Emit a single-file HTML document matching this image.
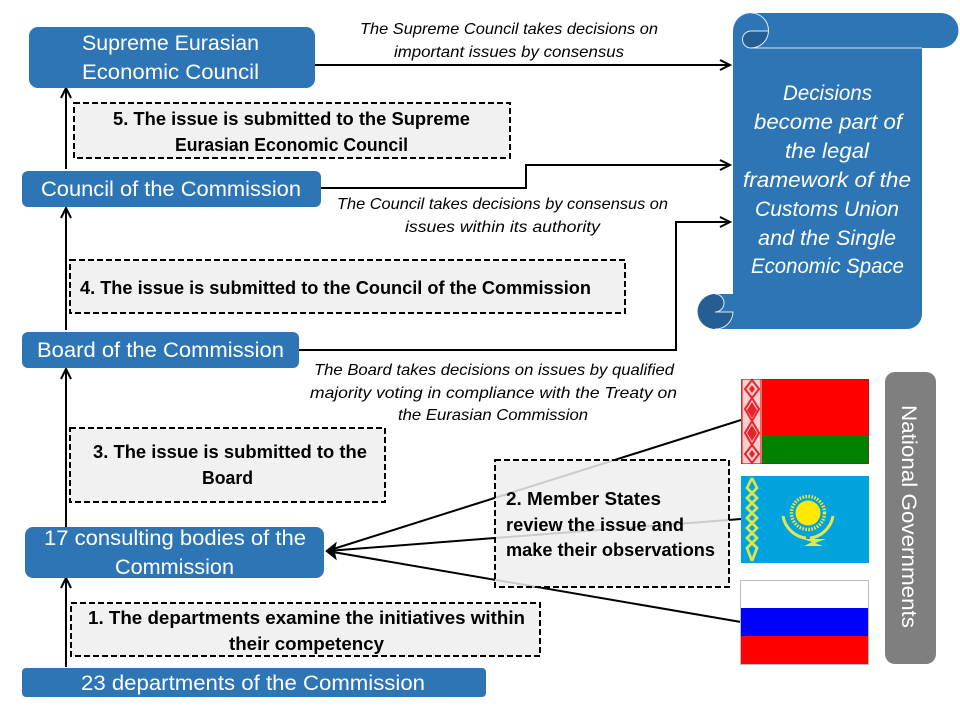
<!DOCTYPE html>
<html>
<head>
<meta charset="utf-8">
<style>
html,body{margin:0;padding:0;background:#fff;width:960px;height:720px;overflow:hidden}
svg{display:block}
text{font-family:"Liberation Sans",sans-serif}
.n{fill:#fff;font-size:21px}
.i{fill:#000;font-size:16px;font-style:italic}
.b{fill:#000;font-size:18px;font-weight:bold}
.s{fill:#fff;font-size:21px;font-style:italic}
.box{fill:#eee;fill-opacity:.85;stroke:#000;stroke-width:2;stroke-dasharray:6 3}
.l{fill:none;stroke:#000;stroke-width:2}
.a{fill:none;stroke:#000;stroke-width:2}
</style>
</head>
<body>
<svg width="960" height="720" viewBox="0 0 960 720" xmlns="http://www.w3.org/2000/svg">
<!-- connectors -->
<path class="l" d="M315 65H729"/><path class="a" d="M720 60L730 65L720 70"/>
<path class="l" d="M321 188H526V165H729"/><path class="a" d="M720 160L730 165L720 170"/>
<path class="l" d="M299 350H676V222H729"/><path class="a" d="M720 217L730 222L720 227"/>
<path class="l" d="M66 169V89"/><path class="a" d="M61 98L66 88L71 98"/>
<path class="l" d="M66 330V209"/><path class="a" d="M61 218L66 208L71 218"/>
<path class="l" d="M66 527V370"/><path class="a" d="M61 379L66 369L71 379"/>
<path class="l" d="M66 667V579"/><path class="a" d="M61 588L66 578L71 588"/>
<path class="l" d="M741 420L327 551"/><path class="l" d="M741 519L327 551"/><path class="l" d="M741 622L327 551"/>
<path fill="#000" stroke="#000" stroke-width="1" d="M326 551L336 543L334 551L336 559Z"/>
<!-- nodes -->
<g fill="#2e75b6">
<rect x="29" y="27" width="286" height="61" rx="9"/>
<rect x="22" y="171" width="299" height="36" rx="6"/>
<rect x="22" y="332" width="277" height="36" rx="6"/>
<rect x="25" y="527" width="299" height="51" rx="8"/>
<rect x="22" y="668" width="464" height="29" rx="4"/>
</g>
<text class="n" x="82" y="50" textLength="177" lengthAdjust="spacingAndGlyphs">Supreme Eurasian</text>
<text class="n" x="82" y="79" textLength="177" lengthAdjust="spacingAndGlyphs">Economic Council</text>
<text class="n" x="41" y="196" textLength="260" lengthAdjust="spacingAndGlyphs">Council of the Commission</text>
<text class="n" x="37" y="357" textLength="247" lengthAdjust="spacingAndGlyphs">Board of the Commission</text>
<text class="n" x="44" y="545" textLength="262" lengthAdjust="spacingAndGlyphs">17 consulting bodies of the</text>
<text class="n" x="115" y="574" textLength="119" lengthAdjust="spacingAndGlyphs">Commission</text>
<text class="n" x="81" y="690" textLength="344" lengthAdjust="spacingAndGlyphs">23 departments of the Commission</text>
<!-- italic labels -->
<text class="i" x="360" y="34" textLength="298" lengthAdjust="spacingAndGlyphs">The Supreme Council takes decisions on</text>
<text class="i" x="394" y="57" textLength="230" lengthAdjust="spacingAndGlyphs">important issues by consensus</text>
<text class="i" x="337" y="209" textLength="331" lengthAdjust="spacingAndGlyphs">The Council takes decisions by consensus on</text>
<text class="i" x="405" y="232" textLength="195" lengthAdjust="spacingAndGlyphs">issues within its authority</text>
<text class="i" x="314" y="375" textLength="360" lengthAdjust="spacingAndGlyphs">The Board takes decisions on issues by qualified</text>
<text class="i" x="310" y="398" textLength="367" lengthAdjust="spacingAndGlyphs">majority voting in compliance with the Treaty on</text>
<text class="i" x="398" y="420" textLength="190" lengthAdjust="spacingAndGlyphs">the Eurasian Commission</text>
<!-- dashed boxes -->
<rect class="box" x="74" y="103" width="436" height="55"/>
<rect class="box" x="70" y="260" width="555" height="53"/>
<rect class="box" x="70" y="428" width="315" height="74"/>
<rect class="box" x="495" y="460" width="234" height="127"/>
<rect class="box" x="71" y="603" width="469" height="53"/>
<text class="b" x="113" y="125" textLength="357" lengthAdjust="spacingAndGlyphs">5. The issue is submitted to the Supreme</text>
<text class="b" x="175" y="151" textLength="233" lengthAdjust="spacingAndGlyphs">Eurasian Economic Council</text>
<text class="b" x="80" y="294" textLength="511" lengthAdjust="spacingAndGlyphs">4. The issue is submitted to the Council of the Commission</text>
<text class="b" x="93" y="458" textLength="274" lengthAdjust="spacingAndGlyphs">3. The issue is submitted to the</text>
<text class="b" x="202" y="484" textLength="51" lengthAdjust="spacingAndGlyphs">Board</text>
<text class="b" x="506" y="505" textLength="155" lengthAdjust="spacingAndGlyphs">2. Member States</text>
<text class="b" x="506" y="531" textLength="178" lengthAdjust="spacingAndGlyphs">review the issue and</text>
<text class="b" x="506" y="556" textLength="209" lengthAdjust="spacingAndGlyphs">make their observations</text>
<text class="b" x="88" y="624" textLength="437" lengthAdjust="spacingAndGlyphs">1. The departments examine the initiatives within</text>
<text class="b" x="229" y="650" textLength="155" lengthAdjust="spacingAndGlyphs">their competency</text>
<!-- scroll -->
<path fill="#2e75b6" d="M733 31A18 18 0 0 1 751 13H941A17.500 17.500 0 0 1 941 48H922V314A15 15 0 0 1 907 329H715A17.500 17.500 0 0 1 715 294H733Z"/>
<path fill="#255e92" d="M751 48A8.500 8.500 0 0 1 751 31H768A18 18 0 0 1 751 48Z"/>
<path fill="#255e92" d="M715 294A17.500 17.500 0 1 0 733 312H715A9 9 0 0 0 724 303A9 9 0 0 0 715 294Z"/>
<path fill="none" stroke="#dfeaf5" stroke-width="1" d="M751 13A17.500 17.500 0 0 1 751 48H922M751 48A8.500 8.500 0 0 1 751 31H768"/>
<path fill="none" stroke="#dfeaf5" stroke-width="1" d="M715 329A17.500 17.500 0 0 0 733 312H715M715 312A9 9 0 0 0 724 303A9 9 0 0 0 715 294"/>
<text class="s" x="783" y="100" textLength="89" lengthAdjust="spacingAndGlyphs">Decisions</text>
<text class="s" x="754" y="129" textLength="148" lengthAdjust="spacingAndGlyphs">become part of</text>
<text class="s" x="785" y="158" textLength="84" lengthAdjust="spacingAndGlyphs">the legal</text>
<text class="s" x="743" y="187" textLength="168" lengthAdjust="spacingAndGlyphs">framework of the</text>
<text class="s" x="755" y="216" textLength="144" lengthAdjust="spacingAndGlyphs">Customs Union</text>
<text class="s" x="758" y="245" textLength="138" lengthAdjust="spacingAndGlyphs">and the Single</text>
<text class="s" x="751" y="273" textLength="153" lengthAdjust="spacingAndGlyphs">Economic Space</text>
<!-- flags -->
<rect x="741" y="379" width="128" height="56" fill="#f00"/>
<rect x="741" y="435" width="128" height="29" fill="#008000"/>
<rect x="741" y="379" width="21" height="85" fill="#f9cfcf"/>
<path fill="none" stroke="#e8232a" stroke-width="2" d="M752 380L759 389L752 398L745 389ZM752 398L759 409L752 421L745 409ZM752 421L759 433L752 445L745 433ZM752 445L759 454L752 463L745 454Z"/>
<path fill="#e8232a" d="M752 402L757 410L752 418L747 410ZM752 425L757 433L752 441L747 433ZM752 385L755 389L752 393L749 389ZM752 450L755 454L752 458L749 454Z"/>
<rect x="741" y="379" width="2" height="85" fill="#ee6a6a"/><rect x="760" y="379" width="2" height="85" fill="#ee6a6a"/>
<rect x="741.500" y="379.500" width="127" height="84" fill="none" stroke="#9b1c1c" stroke-width=".6"/>
<rect x="741" y="476" width="128" height="87" fill="#00a3dd"/>
<path fill="none" stroke="#d9e64a" stroke-width="2.800" d="M752 478L757 488L747 498L757 508L747 518L757 528L747 538L757 548L752 561M752 478L747 488L757 498L747 508L757 518L747 528L757 538L747 548L752 561"/>
<circle cx="808" cy="513" r="12.500" fill="#ffe900"/>
<circle cx="808" cy="513" r="16.500" fill="none" stroke="#f2e92b" stroke-width="3.400" stroke-dasharray="1.600 1.400"/>
<path fill="none" stroke="#e6e74a" stroke-width="3" d="M783 516C785 528 795 537 806 538M833 516C831 528 821 537 810 538"/>
<path fill="#e6e74a" d="M803 539H826L815 543L823 546H804L812 542Z"/>
<rect x="741" y="580" width="128" height="28" fill="#fff"/>
<rect x="741" y="608" width="128" height="28" fill="#00f"/>
<rect x="741" y="636" width="128" height="28" fill="#f00"/>
<rect x="740.500" y="580.500" width="128" height="84" fill="none" stroke="#b4bcc8" stroke-width="1"/>
<!-- national governments -->
<rect x="885" y="372" width="51" height="292" rx="10" fill="#7f7f7f"/>
<text class="n" transform="translate(902 405) rotate(90)" x="0" y="0" textLength="223" lengthAdjust="spacingAndGlyphs">National Governments</text>
</svg>
</body>
</html>
